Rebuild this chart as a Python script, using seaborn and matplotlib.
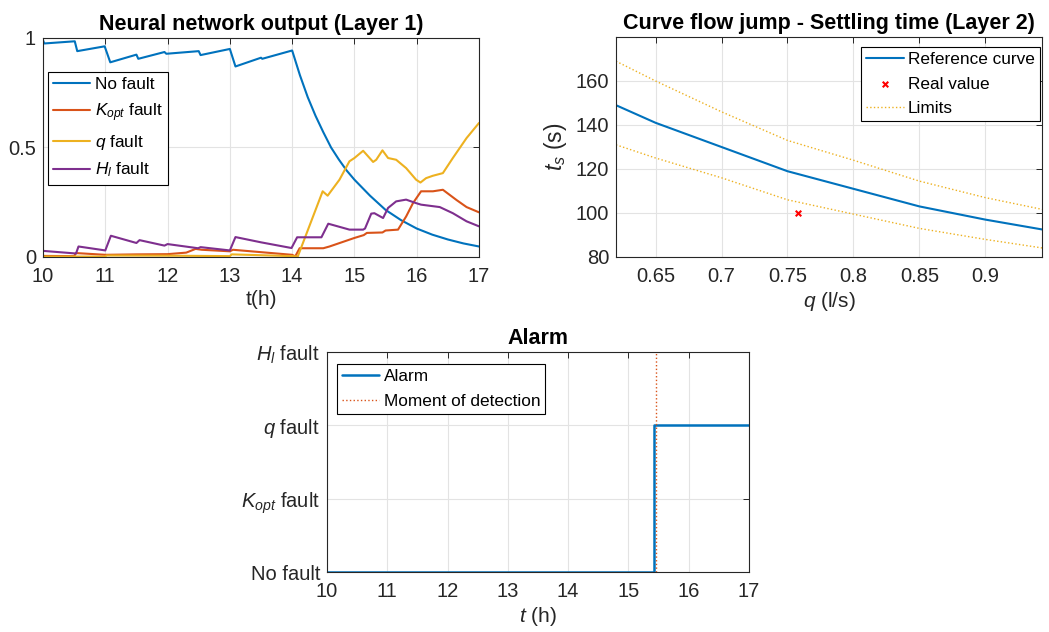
import matplotlib
matplotlib.use("Agg")
import matplotlib.pyplot as plt
import seaborn as sns

# ---- Layer 1: neural network outputs over time (h) ----
no_fault_t = [10.0, 10.02, 10.51, 10.55, 10.99, 11.08, 11.5, 11.53, 11.95, 11.98,
              12.5, 12.53, 13.0, 13.09, 13.5, 13.52, 14.0, 14.125, 14.25, 14.375,
              14.5, 14.625, 14.75, 14.875, 15.0, 15.25, 15.5, 15.75, 16.0, 16.25,
              16.5, 16.75, 17.0]
no_fault_v = [0.99, 0.975, 0.985, 0.94, 0.962, 0.889, 0.924, 0.905, 0.936, 0.928,
              0.94, 0.922, 0.95, 0.87, 0.91, 0.905, 0.943, 0.83, 0.73, 0.645,
              0.57, 0.50, 0.445, 0.395, 0.353, 0.28, 0.215, 0.168, 0.13, 0.102,
              0.08, 0.062, 0.048]

kopt_t = [10.0, 10.5, 10.53, 11.0, 11.5, 12.0, 12.3, 12.45, 12.55, 13.0, 13.05,
          14.0, 14.05, 14.12, 14.5, 14.6, 15.0, 15.15, 15.2, 15.45, 15.5, 15.7,
          15.83, 15.94, 16.07, 16.26, 16.42, 16.64, 16.8, 17.0]
kopt_v = [0.005, 0.004, 0.018, 0.01, 0.012, 0.013, 0.02, 0.037, 0.033, 0.026, 0.033,
          0.01, 0.003, 0.04, 0.04, 0.048, 0.087, 0.10, 0.11, 0.112, 0.121, 0.125,
          0.185, 0.246, 0.30, 0.30, 0.307, 0.26, 0.228, 0.204]

q_t = [10.0, 11.0, 11.02, 12.0, 13.0, 13.03, 14.0, 14.09, 14.49, 14.57, 14.76,
       14.92, 15.0, 15.11, 15.14, 15.3, 15.35, 15.45, 15.54, 15.67, 15.83, 15.99,
       16.06, 16.15, 16.26, 16.42, 16.58, 16.8, 17.0]
q_v = [0.002, 0.002, 0.007, 0.006, 0.004, 0.012, 0.004, 0.002, 0.30, 0.28, 0.353,
       0.437, 0.452, 0.478, 0.485, 0.434, 0.444, 0.487, 0.452, 0.444, 0.406, 0.353,
       0.34, 0.36, 0.371, 0.383, 0.452, 0.543, 0.612]

hl_t = [10.0, 10.53, 10.57, 11.0, 11.09, 11.5, 11.55, 11.95, 12.0, 12.49, 12.53,
        13.0, 13.09, 13.5, 13.99, 14.08, 14.47, 14.58, 14.92, 15.14, 15.17, 15.27,
        15.32, 15.46, 15.54, 15.67, 15.83, 15.99, 16.07, 16.37, 16.58, 16.8, 17.0]
hl_v = [0.028, 0.016, 0.048, 0.03, 0.097, 0.064, 0.077, 0.052, 0.059, 0.04, 0.045,
        0.03, 0.091, 0.067, 0.041, 0.09, 0.09, 0.152, 0.125, 0.125, 0.13, 0.198,
        0.20, 0.178, 0.224, 0.254, 0.262, 0.246, 0.239, 0.228, 0.20, 0.163, 0.14]

# ---- Layer 2: settling time vs flow ----
flow_q = [0.62, 0.65, 0.70, 0.75, 0.80, 0.85, 0.90, 0.95]
ts_ref = [149.0, 141.0, 130.0, 119.0, 111.0, 103.0, 97.0, 91.8]
ts_upper = [169.0, 160.0, 146.0, 133.0, 124.0, 114.5, 107.0, 100.8]
ts_lower = [131.0, 125.0, 116.0, 106.0, 99.5, 93.0, 88.0, 83.5]
real_q = [0.758]
real_ts = [100.0]

# ---- Alarm ----
alarm_t = [10.0, 15.43, 17.0]
alarm_state = [0, 2, 2]
detection_time = 15.45
alarm_labels = ["No fault", r"$K_{opt}$ fault", r"$q$ fault", r"$H_l$ fault"]

BLUE, ORANGE, YELLOW, PURPLE = "#0072BD", "#D95319", "#EDB120", "#7E2F8E"
INK = "#262626"

sns.set_theme(style="white")
plt.rcParams.update({
    "font.family": ["Liberation Sans", "DejaVu Sans"],
    "mathtext.fontset": "custom",
    "mathtext.rm": "Liberation Sans",
    "mathtext.it": "Liberation Sans:italic",
    "mathtext.bf": "Liberation Sans:bold",
    "axes.edgecolor": INK,
    "axes.linewidth": 0.8,
    "xtick.color": INK,
    "ytick.color": INK,
    "axes.labelcolor": INK,
})

W, H = 1049, 632
fig = plt.figure(figsize=(W / 100, H / 100), dpi=100)


def px_axes(left, top, right, bottom):
    return fig.add_axes([left / W, 1 - bottom / H, (right - left) / W, (bottom - top) / H])


def style(ax):
    ax.grid(True, color="#e3e3e3", lw=0.8)
    ax.set_axisbelow(True)
    ax.tick_params(direction="in", top=True, right=True, length=4, width=0.7,
                   labelsize=14.5)
    ax.tick_params(axis="x", pad=7)
    ax.tick_params(axis="y", pad=5)
    for s in ax.spines.values():
        s.set_color(INK)
        s.set_linewidth(0.8)


def legend(ax, **kw):
    lg = ax.legend(fancybox=False, framealpha=1, edgecolor="black", fontsize=12.4,
                   borderaxespad=0, handlelength=2.15, handletextpad=0.25,
                   borderpad=0.3, **kw)
    lg.get_frame().set_linewidth(0.8)
    for t in lg.get_texts():
        t.set_color("black")
    return lg


# Layer 1 panel
ax1 = px_axes(43, 38, 479, 257)
for t, v, c, lab in [(no_fault_t, no_fault_v, BLUE, "No fault"),
                     (kopt_t, kopt_v, ORANGE, r"$K_{opt}$ fault"),
                     (q_t, q_v, YELLOW, r"$q$ fault"),
                     (hl_t, hl_v, PURPLE, r"$H_l$ fault")]:
    sns.lineplot(x=t, y=v, ax=ax1, color=c, lw=1.5, label=lab, estimator=None)
ax1.set_xlim(10, 17)
ax1.set_ylim(0, 1)
ax1.set_xticks(range(10, 18))
ax1.set_yticks([0, 0.5, 1])
ax1.set_yticklabels(["0", "0.5", "1"])
style(ax1)
ax1.set_title("Neural network output (Layer 1)", fontsize=15.5, fontweight="bold",
              color="black", pad=6)
ax1.set_xlabel("t(h)", fontsize=15, labelpad=3)
legend(ax1, loc="upper left", bbox_to_anchor=(0.0115, 0.845), labelspacing=0.52)

# Layer 2 panel
ax2 = px_axes(616, 37, 1042, 257)
sns.lineplot(x=flow_q, y=ts_ref, ax=ax2, color=BLUE, lw=1.5, label="Reference curve",
             estimator=None)
sns.scatterplot(x=real_q, y=real_ts, ax=ax2, color="red", marker="x", s=16,
                linewidth=1.5, label="Real value", zorder=5)
sns.lineplot(x=flow_q, y=ts_upper, ax=ax2, color=YELLOW, lw=1.0, ls=":",
             label="Limits", estimator=None)
sns.lineplot(x=flow_q, y=ts_lower, ax=ax2, color=YELLOW, lw=1.0, ls=":",
             estimator=None)
ax2.set_xlim(0.62, 0.943)
ax2.set_ylim(80, 180)
ax2.set_xticks([0.65, 0.7, 0.75, 0.8, 0.85, 0.9])
ax2.set_xticklabels(["0.65", "0.7", "0.75", "0.8", "0.85", "0.9"])
ax2.set_yticks([80, 100, 120, 140, 160])
style(ax2)
ax2.set_title("Curve flow jump - Settling time (Layer 2)", fontsize=15.5,
              fontweight="bold", color="black", pad=6)
ax2.set_xlabel(r"$q$ (l/s)", fontsize=15, labelpad=3)
ax2.set_ylabel(r"$t_s$ (s)", fontsize=16.5, labelpad=5)
legend(ax2, loc="upper right", bbox_to_anchor=(0.995, 0.955), labelspacing=0.55)

# Alarm panel
ax3 = px_axes(327, 352, 749, 572)
sns.lineplot(x=alarm_t, y=alarm_state, ax=ax3, color=BLUE, lw=1.8, label="Alarm",
             drawstyle="steps-post", estimator=None)
ax3.axvline(detection_time, color=ORANGE, lw=1.0, ls=":", label="Moment of detection")
ax3.set_xlim(10, 17)
ax3.set_ylim(0, 3)
ax3.set_xticks(range(10, 18))
ax3.set_yticks([0, 1, 2, 3])
ax3.set_yticklabels(alarm_labels)
style(ax3)
ax3.set_title("Alarm", fontsize=15.5, fontweight="bold", color="black", pad=6)
ax3.set_xlabel(r"$t$ (h)", fontsize=15, labelpad=3)
legend(ax3, loc="upper left", bbox_to_anchor=(0.024, 0.945), labelspacing=0.55)

fig.savefig("out.png", dpi=100)
